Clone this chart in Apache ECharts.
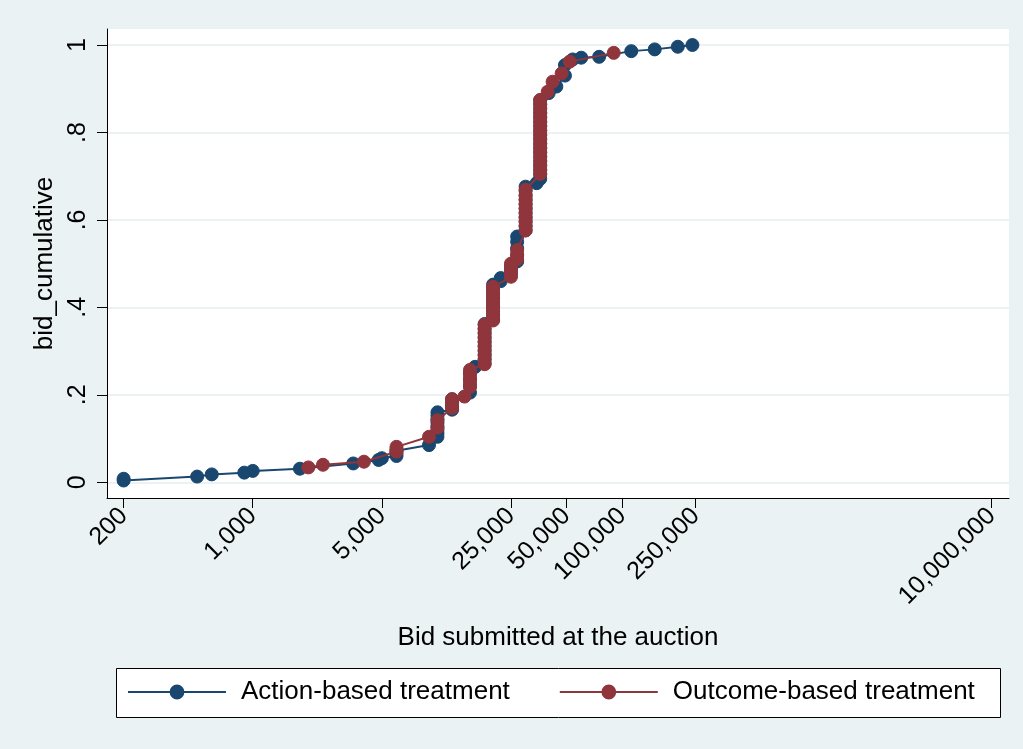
<!DOCTYPE html>
<html>
<head>
<meta charset="utf-8">
<script src="https://cdn.jsdelivr.net/npm/echarts@6/dist/echarts.min.js"></script>
<style>
  html, body { margin: 0; padding: 0; background: #EAF2F3; }
  #chart { width: 1023px; height: 749px; }
</style>
</head>
<body>
<div id="chart"></div>
<script>
// Tick positions on the (log) bid axis and on the cumulative axis
const tickBids = [200, 1000, 5000, 25000, 50000, 100000, 250000, 10000000];
const yTicks = [0, 0.2, 0.4, 0.6, 0.8, 1];
const yTickLabels = ['0', '.2', '.4', '.6', '.8', '1'];

// Action-based treatment: bid and cumulative share
const actionBid = [
  200, 200, 500, 600, 900, 1000, 1800, 3500, 4800, 5000,
  6000, 6000, 6000, 9000,
  10000, 10000, 10000, 10000, 10000, 10000, 10000, 10000,
  12000, 12000, 12000, 12000,
  15000, 15000, 15000, 15000, 16000,
  18000, 18000, 18000, 18000, 18000, 18000, 18000, 18000, 18000, 18000,
  20000, 20000, 20000, 20000, 20000, 20000, 20000, 20000, 20000,
  22000, 22000, 25000, 25000, 25000,
  27000, 27000, 27000, 27000, 27000,
  30000, 30000, 30000, 30000, 30000, 30000, 30000, 30000, 30000, 30000, 30000,
  34400,
  36000, 36000, 36000, 36000, 36000, 36000, 36000, 36000, 36000, 36000,
  36000, 36000, 36000, 36000, 36000, 36000, 36000, 36000, 36000,
  40000, 44000, 49000, 49000, 54000, 60000, 75000, 112000, 150000, 200000, 240000
];
const actionCum = [
  0.004, 0.008, 0.013, 0.018, 0.022, 0.026, 0.031, 0.043, 0.051, 0.055,
  0.060, 0.066, 0.072, 0.085,
  0.104, 0.112, 0.120, 0.128, 0.136, 0.144, 0.152, 0.160,
  0.166, 0.174, 0.182, 0.190,
  0.205, 0.220, 0.235, 0.250, 0.264,
  0.272, 0.282, 0.292, 0.302, 0.312, 0.322, 0.332, 0.342, 0.352, 0.362,
  0.372, 0.382, 0.392, 0.402, 0.412, 0.422, 0.432, 0.442, 0.452,
  0.460, 0.467, 0.475, 0.485, 0.495,
  0.505, 0.520, 0.535, 0.550, 0.562,
  0.576, 0.586, 0.596, 0.606, 0.616, 0.626, 0.636, 0.646, 0.656, 0.666, 0.676,
  0.684,
  0.694, 0.704, 0.714, 0.724, 0.734, 0.744, 0.754, 0.764, 0.774, 0.784,
  0.794, 0.804, 0.814, 0.824, 0.834, 0.844, 0.854, 0.864, 0.874,
  0.890, 0.905, 0.930, 0.954, 0.967, 0.971, 0.973, 0.986, 0.990, 0.996, 1.000
];

// Outcome-based treatment: bid and cumulative share
const outcomeBid = [
  2000, 2400, 4000, 6000, 6000, 6000, 9000, 10000, 10000,
  12000, 12000, 12000, 14000,
  15000, 15000, 15000, 15000, 15000,
  18000, 18000, 18000, 18000, 18000, 18000, 18000, 18000, 18000, 18000,
  20000, 20000, 20000, 20000, 20000, 20000, 20000, 20000, 20000,
  25000, 25000, 25000, 25000,
  27000, 27000, 27000,
  30000, 30000, 30000, 30000, 30000, 30000, 30000, 30000, 30000, 30000,
  36000, 36000, 36000, 36000, 36000, 36000, 36000, 36000, 36000,
  36000, 36000, 36000, 36000, 36000, 36000, 36000, 36000, 36000,
  39500, 42000, 47000, 52000, 90000
];
const outcomeCum = [
  0.034, 0.040, 0.047, 0.070, 0.075, 0.081, 0.104, 0.125, 0.142,
  0.170, 0.180, 0.190, 0.196,
  0.218, 0.228, 0.238, 0.248, 0.257,
  0.270, 0.280, 0.290, 0.300, 0.310, 0.320, 0.330, 0.340, 0.350, 0.360,
  0.370, 0.380, 0.390, 0.400, 0.410, 0.420, 0.430, 0.440, 0.447,
  0.470, 0.480, 0.490, 0.500,
  0.510, 0.520, 0.531,
  0.576, 0.586, 0.596, 0.606, 0.616, 0.626, 0.636, 0.646, 0.656, 0.669,
  0.705, 0.715, 0.725, 0.735, 0.745, 0.755, 0.765, 0.775, 0.785,
  0.795, 0.805, 0.815, 0.825, 0.835, 0.845, 0.855, 0.865, 0.874,
  0.893, 0.916, 0.935, 0.962, 0.982
];

const NAVY = '#1A476F';
const MAROON = '#90353B';
const FONT = '"Liberation Sans", Arial, Helvetica, sans-serif';

// The bid axis is logarithmic: points are placed at log10(bid)
const toPoints = (bids, cums) => bids.map((b, i) => [Math.log10(b), cums[i]]);
const tickLogs = tickBids.map(v => Math.log10(v));
const fmtBid = v => Math.round(Math.pow(10, v)).toLocaleString('en-US');

const chart = echarts.init(document.getElementById('chart'), null, { renderer: 'canvas' });

// Solid markers, outlined in their own colour so stacked points merge cleanly
const markerStyle = c => ({ color: c, borderColor: c, borderWidth: 1, opacity: 1 });

chart.setOption({
  animation: false,
  backgroundColor: '#EAF2F3',
  textStyle: { fontFamily: FONT, color: '#000' },
  grid: {
    left: 107, right: 14, top: 29, bottom: 251,
    show: true, backgroundColor: '#FFFFFF', borderWidth: 0
  },
  xAxis: {
    type: 'value',
    min: 2.211, max: 7.094,
    name: 'Bid submitted at the auction',
    nameLocation: 'middle',
    nameGap: 127,
    nameTextStyle: { fontSize: 26, color: '#000', fontFamily: FONT, verticalAlign: 'top' },
    axisLine: { show: true, onZero: false, lineStyle: { color: '#000', width: 1 } },
    axisTick: { show: true, length: 10, customValues: tickLogs, lineStyle: { color: '#000', width: 1 } },
    axisLabel: {
      customValues: tickLogs,
      rotate: 45,
      margin: 14,
      fontSize: 25,
      color: '#000',
      fontFamily: FONT,
      formatter: fmtBid
    },
    splitLine: { show: false }
  },
  yAxis: {
    type: 'value',
    min: -0.036, max: 1.0366,
    name: 'bid_cumulative',
    nameLocation: 'middle',
    nameGap: 36,
    nameRotate: 90,
    nameTextStyle: { fontSize: 26, color: '#000', fontFamily: FONT },
    axisLine: { show: true, onZero: false, lineStyle: { color: '#000', width: 1 } },
    axisTick: { show: true, length: 10, customValues: yTicks, lineStyle: { color: '#000', width: 1 } },
    axisLabel: {
      customValues: yTicks,
      rotate: 90,
      margin: 16,
      fontSize: 25,
      color: '#000',
      fontFamily: FONT,
      formatter: v => yTickLabels[yTicks.findIndex(t => Math.abs(t - v) < 1e-9)] ?? ''
    },
    splitLine: { show: true, lineStyle: { color: '#E6EEF0', width: 1.5 } }
  },
  legend: {
    left: 127,
    top: 679,
    itemWidth: 98,
    itemHeight: 16,
    itemGap: 49,
    padding: 0,
    textStyle: { fontSize: 26, color: '#000', fontFamily: FONT, padding: [0, 0, 0, 10] },
    data: ['Action-based treatment', 'Outcome-based treatment']
  },
  graphic: [
    {
      type: 'rect',
      z: -1,
      shape: { x: 116.5, y: 668.5, width: 884, height: 49 },
      style: { fill: '#FFFFFF', stroke: '#000', lineWidth: 1 }
    }
  ],
  series: [
    {
      name: 'Action-based treatment',
      type: 'line',
      data: toPoints(actionBid, actionCum),
      symbol: 'circle',
      symbolSize: 13,
      showAllSymbol: true,
      itemStyle: markerStyle(NAVY),
      lineStyle: { color: NAVY, width: 2 },
      z: 2
    },
    {
      name: 'Outcome-based treatment',
      type: 'line',
      data: toPoints(outcomeBid, outcomeCum),
      symbol: 'circle',
      symbolSize: 13,
      showAllSymbol: true,
      itemStyle: markerStyle(MAROON),
      lineStyle: { color: MAROON, width: 2 },
      z: 3
    }
  ]
});
</script>
</body>
</html>
